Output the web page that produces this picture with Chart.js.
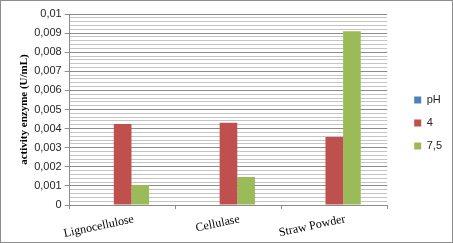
<!DOCTYPE html>
<html>
<head>
<meta charset="utf-8">
<script src="https://cdn.jsdelivr.net/npm/chart.js@4/dist/chart.umd.min.js"></script>
<style>
  html, body { margin: 0; padding: 0; background: #fff; }
  #wrap { width: 453px; height: 243px; box-sizing: border-box; border: 1px solid #8c8c8c; position: relative; }
</style>
</head>
<body>
<div id="wrap"><canvas id="myChart"></canvas></div>
<script>
const categories = ['Lignocellulose', 'Cellulase', 'Straw Powder']
const seriesNames = ['pH', '4', '7,5']
const phValues = [0, 0, 0]
const ph4Values = [0.00424, 0.00431, 0.00356]
const ph75Values = [0.00105, 0.00147, 0.00910]
const yMax = 0.01
const minorStep = 0.0002

const fmt = v => {
    const k = Math.round(v * 1000)
    if (k === 0) return '0'
    if (k === 10) return '0,01'
    return '0,00' + k
}
const isMajor = v => Math.abs(v * 1000 - Math.round(v * 1000)) < 1e-6

const ctx = document.getElementById('myChart').getContext('2d')
const myChart = new Chart(ctx, {
    type: 'bar',
    data: {
        labels: categories,
        datasets: [
            { label: seriesNames[0], data: phValues, backgroundColor: '#4F81BD' },
            { label: seriesNames[1], data: ph4Values, backgroundColor: '#C0504D' },
            { label: seriesNames[2], data: ph75Values, backgroundColor: '#9BBB59' }
        ]
    },
    options: {
        responsive: true,
        maintainAspectRatio: false,
        animation: false,
        layout: { padding: { top: 13, left: 17, right: 0, bottom: 0 } },
        datasets: { bar: { categoryPercentage: 0.5, barPercentage: 1.0, borderWidth: 0 } },
        plugins: {
            legend: {
                position: 'right',
                fullSize: false,
                // empty title only pushes the items down a bit
                title: { display: true, text: '', font: { size: 11 }, padding: 7 },
                labels: {
                    boxWidth: 7, boxHeight: 7, padding: 12,
                    color: '#262626',
                    font: { family: 'Liberation Sans', size: 11 }
                }
            },
            tooltip: { enabled: false }
        },
        scales: {
            x: {
                grid: { drawOnChartArea: false, tickLength: 4, color: '#8c8c8c' },
                border: { color: '#8c8c8c' },
                ticks: {
                    color: '#000',
                    font: { family: 'Liberation Serif', size: 12 },
                    minRotation: 12, maxRotation: 12,
                    labelOffset: 11,
                    padding: 3
                },
                afterFit: s => { s.height = 37 }
            },
            y: {
                min: 0,
                max: yMax,
                afterBuildTicks: axis => {
                    const n = Math.round(yMax / minorStep)
                    const t = []
                    for (let i = 0; i <= n; i++) t.push({ value: i * minorStep })
                    axis.ticks = t
                },
                grid: {
                    color: c => isMajor(c.tick.value) ? '#8c8c8c' : '#c4c4c4',
                    tickColor: c => isMajor(c.tick.value) ? '#8c8c8c' : 'rgba(0,0,0,0)',
                    tickLength: 5
                },
                border: { color: '#8c8c8c' },
                ticks: {
                    autoSkip: false,
                    color: '#262626',
                    font: { family: 'Liberation Sans', size: 11 },
                    padding: 3,
                    callback: v => isMajor(v) ? fmt(v) : ''
                },
                title: {
                    display: true,
                    text: 'activity enzyme (U/mL)',
                    color: '#000',
                    font: { family: 'Liberation Serif', size: 11, weight: 'bold' },
                    padding: { top: 0, bottom: 0 }
                }
            },
            // empty spacer between plot and legend
            gap: {
                position: 'right',
                grid: { display: false },
                border: { display: false },
                ticks: { display: false },
                afterFit: s => { s.width = 15 }
            }
        }
    }
})
</script>
</body>
</html>
